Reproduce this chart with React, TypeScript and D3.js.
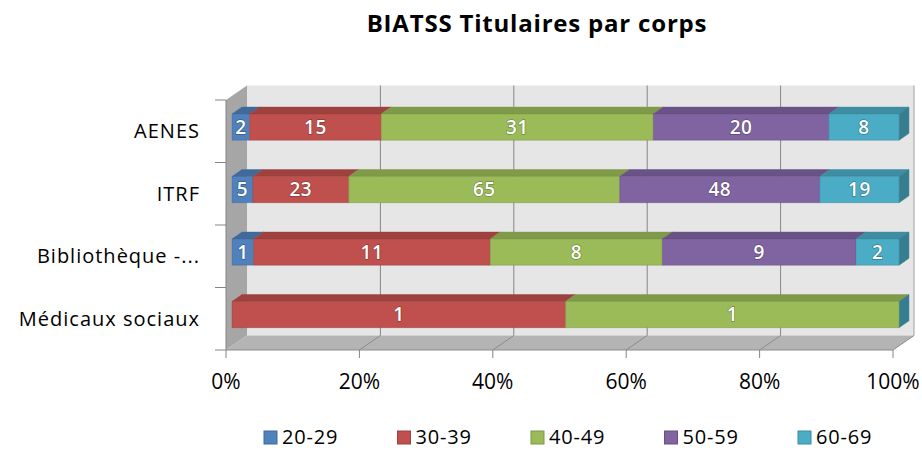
import React from "react";
import * as d3 from "d3";

const title = "BIATSS Titulaires par corps";
const categories = ["AENES", "ITRF", "Bibliothèque -...", "Médicaux sociaux"];
const seriesNames = ["20-29", "30-39", "40-49", "50-59", "60-69"];
const s2029 = [2, 5, 1, 0];
const s3039 = [15, 23, 11, 1];
const s4049 = [31, 65, 8, 1];
const s5059 = [20, 48, 9, 0];
const s6069 = [8, 19, 2, 0];
const xTicks = [0, 0.2, 0.4, 0.6, 0.8, 1];
const colors = ["#4F81BD", "#C0504D", "#9BBB59", "#8064A2", "#4BACC6"];

const seriesValues = [s2029, s3039, s4049, s5059, s6069];
const rows = categories.map((c, i) => {
  const r: any = { cat: c };
  seriesNames.forEach((s, j) => (r[s] = seriesValues[j][i]));
  return r;
});

const FONT = "'Open Sans', 'DejaVu Sans', sans-serif";

export default function App() {
  const x = d3.scaleLinear().domain([0, 1]).range([226, 893]);
  const y = d3.scaleBand().domain(categories).range([100, 350]);
  const DX = 21;
  const DY = 14.5;
  const zf = 0.29;
  const zb = 0.76;
  const barFrac = 0.42;
  const P = (px: number, py: number, z: number) => [px + z * DX, py - z * DY];
  const poly = (pts: number[][]) => pts.map((p) => p.join(",")).join(" ");

  const stack = d3.stack().keys(seriesNames).offset(d3.stackOffsetExpand);
  const stacked = stack(rows as any);

  const x0 = x(0), x1 = x(1), yTop = 100, yBot = 350;
  const fmt = d3.format(".0%");
  const sideColor = d3.color(colors[colors.length - 1])!.darker(0.9).formatHex();

  const bars: React.ReactNode[] = [];
  const labels: React.ReactNode[] = [];
  categories.forEach((cat, ci) => {
    const bandTop = y(cat)!;
    const bh = y.bandwidth() * barFrac;
    const yb0 = bandTop + (y.bandwidth() - bh) / 2;
    const yb1 = yb0 + bh;
    let lastIdx = -1;
    stacked.forEach((s, si) => {
      if (seriesValues[si][ci] > 0) lastIdx = si;
    });
    stacked.forEach((s, si) => {
      const v = seriesValues[si][ci];
      if (!(v > 0)) return;
      const [a, b] = s[ci];
      const xa = x(a), xb = x(b);
      const col = d3.color(colors[si])!;
      const top = d3.color(colors[si])!.darker(0.55).formatHex();
      const edge = d3.color(colors[si])!.darker(0.8).formatHex();
      const f1 = P(xa, yb0, zf), f2 = P(xb, yb0, zf), f3 = P(xb, yb1, zf), f4 = P(xa, yb1, zf);
      const t1 = P(xa, yb0, zb), t2 = P(xb, yb0, zb), t3 = P(xb, yb1, zb);
      bars.push(
        <g key={`${ci}-${si}`}>
          <polygon points={poly([f1, t1, t2, f2])} fill={top} stroke={top} strokeWidth={0.5} />
          {si === lastIdx && (
            <polygon points={poly([f2, t2, t3, f3])} fill={sideColor} stroke={sideColor} strokeWidth={0.5} />
          )}
          <polygon points={poly([f1, f2, f3, f4])} fill={col.formatHex()} stroke={edge} strokeOpacity={0.5} strokeWidth={0.8} />
        </g>
      );
      labels.push(
        <text
          key={`l${ci}-${si}`}
          x={(f1[0] + f2[0]) / 2}
          y={(f1[1] + f4[1]) / 2}
          dy="0.36em"
          textAnchor="middle"
          fill="#ffffff"
          stroke="rgba(0,0,0,0.3)"
          strokeWidth={1.4}
          paintOrder="stroke"
          fontFamily={FONT}
          fontWeight={600}
          fontSize={19}
          letterSpacing={0.5}
        >
          {v}
        </text>
      );
    });
  });

  const [bl0x, bl0y] = P(x0, yTop, 1);
  const [br0x] = P(x1, yTop, 1);
  const [, bBotY] = P(x0, yBot, 1);

  return (
    <svg
      width={922}
      height={450}
      style={{ position: "absolute", left: 0, top: 0, background: "#ffffff" }}
    >
      <rect x={0} y={0} width={922} height={450} fill="#ffffff" />
      <text
        x={537}
        y={23}
        dy="0.36em"
        textAnchor="middle"
        fontFamily={FONT}
        fontWeight="bold"
        fontSize={24}
        letterSpacing={0.8}
        fill="#000000"
      >
        {title}
      </text>

      {/* back wall */}
      <polygon points={poly([[bl0x, bl0y], [br0x, bl0y], [br0x, bBotY], [bl0x, bBotY]])} fill="#e6e6e6" />
      {/* left wall */}
      <polygon points={poly([[x0, yTop], [bl0x, bl0y], [bl0x, bBotY], [x0, yBot]])} fill="#a6a6a6" />
      {/* floor */}
      <polygon points={poly([[x0, yBot], [x1, yBot], P(x1, yBot, 1), P(x0, yBot, 1)])} fill="#b4b4b4" />

      {/* grid lines */}
      {xTicks.map((t) => {
        const xf = x(t);
        const [xbk, ybk] = P(xf, yBot, 1);
        const [, ytk] = P(xf, yTop, 1);
        return (
          <g key={`g${t}`}>
            {t > 0 && <line x1={xbk} x2={xbk} y1={ytk} y2={ybk} stroke={t === 1 ? "#a0a0a0" : "#868686"} strokeWidth={1} />}
            {t > 0 && <line x1={xf} y1={yBot} x2={xbk} y2={ybk} stroke="#8a8a8a" strokeWidth={1} />}
          </g>
        );
      })}
      {/* axes */}
      <line x1={x0} x2={x0} y1={yTop} y2={yBot} stroke="#858585" strokeWidth={1} />
      <line x1={x0} x2={x1} y1={yBot} y2={yBot} stroke="#8c8c8c" strokeWidth={1} />
      {[...categories.map((c) => y(c)!), yBot].map((yy, i) => (
        <line key={`yt${i}`} x1={x0 - 11} x2={x0} y1={yy} y2={yy} stroke="#858585" strokeWidth={1} />
      ))}
      {xTicks.map((t) => (
        <line key={`xt${t}`} x1={x(t)} x2={x(t)} y1={yBot} y2={yBot + 8} stroke="#858585" strokeWidth={1} />
      ))}

      {bars}
      {labels}

      {/* category labels */}
      {categories.map((c) => (
        <text
          key={`c${c}`}
          x={200}
          y={y(c)! + y.bandwidth() / 2}
          dy="0.36em"
          textAnchor="end"
          fontFamily={FONT}
          fontSize={20}
          letterSpacing={1}
          fill="#000000"
        >
          {c}
        </text>
      ))}

      {/* x tick labels */}
      {xTicks.map((t) => (
        <text
          key={`xl${t}`}
          x={x(t)}
          y={381}
          dy="0.36em"
          textAnchor="middle"
          fontFamily={FONT}
          fontSize={21}
          fill="#000000"
        >
          {fmt(t)}
        </text>
      ))}

      {/* legend */}
      {seriesNames.map((s, i) => {
        const lx = 264 + i * 133.5;
        return (
          <g key={`lg${s}`}>
            <rect x={lx} y={431} width={13} height={13} fill={colors[i]} stroke={d3.color(colors[i])!.darker(0.6).formatHex()} strokeWidth={1} />
            <text x={lx + 18} y={444} fontFamily={FONT} fontSize={20} fill="#000000" letterSpacing={0.8}>
              {s}
            </text>
          </g>
        );
      })}
    </svg>
  );
}
